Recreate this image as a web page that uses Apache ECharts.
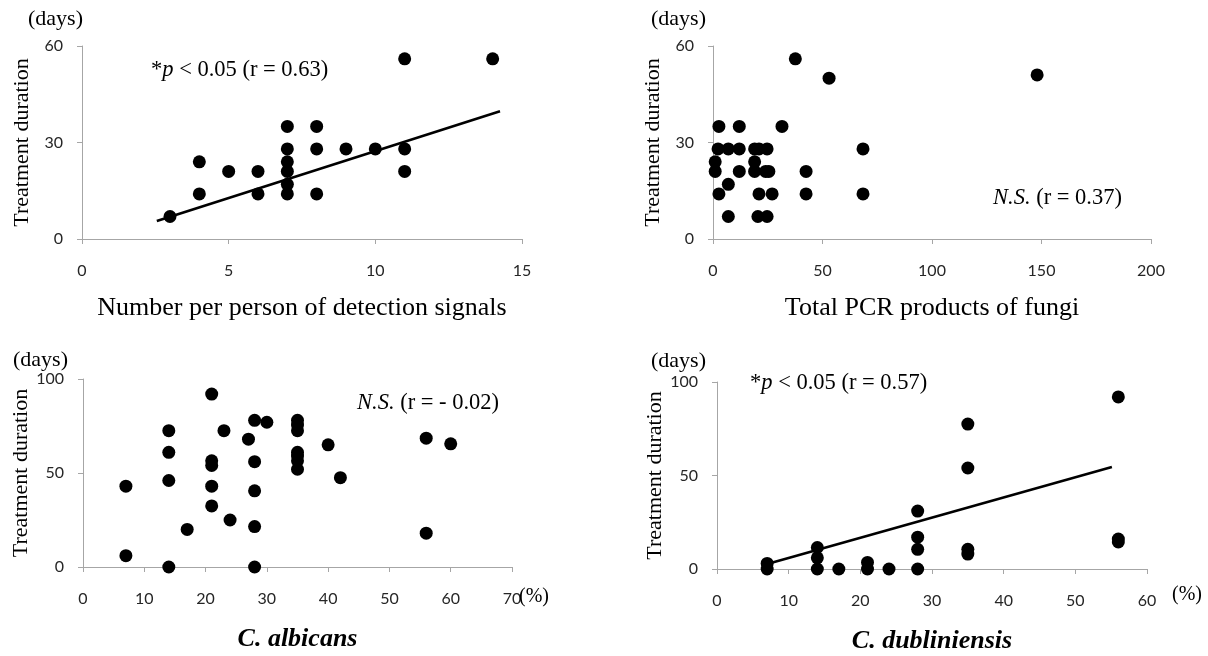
<!DOCTYPE html>
<html>
<head>
<meta charset="utf-8">
<script src="https://cdn.jsdelivr.net/npm/echarts@6/dist/echarts.min.js"></script>
<style>
html,body{margin:0;padding:0;background:#fff;}
#chart{width:1208px;height:656px;}
</style>
</head>
<body>
<div id="chart"></div>
<script>
// Panel 1: number per person of detection signals vs treatment duration
const signalsX = [11, 14, 3, 4, 4, 5, 6, 6, 7, 7, 7, 7, 7, 7, 8, 8, 8, 9, 10, 11, 11];
const signalsY = [56, 56, 7, 24, 14, 21, 21, 14, 35, 28, 24, 21, 17, 14, 35, 28, 14, 28, 28, 28, 21];
const signalsTrendX = [2.55, 14.25];
const signalsTrendY = [5.6, 39.7];

// Panel 2: total PCR products of fungi vs treatment duration
const pcrX = [37.6, 53, 148, 2.7, 12, 31.5, 2.3, 7, 12, 19, 21, 24.7, 68.5, 1, 19, 1, 12, 19, 24, 25.5, 42.5, 7, 2.7, 21, 27, 42.5, 68.5, 7, 20.5, 24.7];
const pcrY = [56, 50, 51, 35, 35, 35, 28, 28, 28, 28, 28, 28, 28, 24, 24, 21, 21, 21, 21, 21, 21, 17, 14, 14, 14, 14, 14, 7, 7, 7];

// Panel 3: C. albicans (%) vs treatment duration
const albicansX = [21, 14, 14, 14, 14, 7, 7, 17, 21, 21, 21, 21, 23, 24, 27, 28, 28, 28, 28, 28, 30, 35, 35, 35, 35, 35, 35, 35, 40, 42, 56, 56, 60];
const albicansY = [92, 72.5, 61, 46, 0, 43, 6, 20, 56.5, 54, 43, 32.5, 72.5, 25, 68, 78, 56, 40.5, 21.5, 0, 77, 78, 75.5, 72.5, 61, 59, 56.5, 52, 65, 47.5, 68.5, 18, 65.5];

// Panel 4: C. dubliniensis (%) vs treatment duration
const dubliX = [56, 35, 35, 35, 35, 28, 28, 28, 28, 14, 14, 14, 17, 21, 21, 24, 7, 7, 56, 56];
const dubliY = [92, 77.5, 54, 10.5, 8, 31, 17, 10.5, 0, 11.5, 6, 0, 0, 3.5, 0, 0, 3, 0, 16, 14.5];
const dubliTrendX = [7, 55.1];
const dubliTrendY = [2.7, 54.5];

// Tick settings
const xTicks = [{min: 0, max: 15, interval: 5}, {min: 0, max: 200, interval: 50}, {min: 0, max: 70, interval: 10}, {min: 0, max: 60, interval: 10}];
const yTicks = [{min: 0, max: 60, interval: 30}, {min: 0, max: 60, interval: 30}, {min: 0, max: 100, interval: 50}, {min: 0, max: 100, interval: 50}];

const xNames = ['Number per person of detection signals', 'Total PCR products of fungi', 'C. albicans', 'C. dubliniensis'];
const yName = 'Treatment duration';

const SERIF = '"Liberation Serif", "Times New Roman", serif';
const SANS = 'Lato, "Open Sans", sans-serif';

const grids = [
  {left: 82, top: 46, width: 440, height: 193},
  {left: 713, top: 46, width: 438, height: 193},
  {left: 83, top: 379, width: 429, height: 188},
  {left: 717, top: 382, width: 430, height: 187}
];

function mkX(i) {
  const bottom = i >= 2;
  return {
    gridIndex: i, type: 'value', min: xTicks[i].min, max: xTicks[i].max, interval: xTicks[i].interval,
    name: xNames[i], nameLocation: 'middle', nameGap: bottom ? 59 : 56,
    nameTextStyle: {fontFamily: SERIF, fontSize: 26, color: '#000',
      fontWeight: bottom ? 'bold' : 'normal', fontStyle: bottom ? 'italic' : 'normal'},
    splitLine: {show: false},
    axisLine: {onZero: false, lineStyle: {color: '#a6a6a6', width: 1}},
    axisTick: {show: true, inside: false, length: 5, lineStyle: {color: '#a6a6a6'}},
    axisLabel: {margin: 24, fontFamily: SANS, fontSize: 16, color: '#262626'}
  };
}
function mkY(i) {
  return {
    gridIndex: i, type: 'value', min: yTicks[i].min, max: yTicks[i].max, interval: yTicks[i].interval,
    name: yName, nameLocation: 'middle', nameRotate: 90, nameGap: 49,
    nameTextStyle: {fontFamily: SERIF, fontSize: 22, color: '#000'},
    splitLine: {show: false},
    axisLine: {show: true, onZero: false, lineStyle: {color: '#a6a6a6', width: 1}},
    axisTick: {show: true, inside: false, length: 5, lineStyle: {color: '#a6a6a6'}},
    axisLabel: {margin: 19, fontFamily: SANS, fontSize: 16, color: '#262626'}
  };
}

function pairs(xs, ys) { return xs.map((x, k) => [x, ys[k]]); }
function scatter(i, xs, ys) {
  return {type: 'scatter', xAxisIndex: i, yAxisIndex: i, data: pairs(xs, ys), symbolSize: 13,
    itemStyle: {color: '#000', opacity: 1}, silent: true, animation: false, z: 3};
}
function trend(i, xs, ys) {
  return {type: 'line', xAxisIndex: i, yAxisIndex: i, data: pairs(xs, ys), showSymbol: false,
    lineStyle: {color: '#000', width: 2.6}, silent: true, animation: false, z: 4};
}

const serifTxt = {fontFamily: SERIF, fontSize: 22, color: '#000', fontWeight: 'normal'};
const rich = {
  n: {fontFamily: SERIF, fontSize: 22.5, color: '#000'},
  i: {fontFamily: SERIF, fontSize: 22.5, color: '#000', fontStyle: 'italic'}
};
function txt(text, left, top, style) {
  return {text: text, left: left, top: top, padding: 0, itemGap: 0,
    textStyle: Object.assign({}, serifTxt, style || {}, {rich: rich})};
}

const option = {
  backgroundColor: '#fff',
  animation: false,
  title: [
    txt('(days)', 28, 8),
    txt('(days)', 651, 8),
    txt('(days)', 13, 349),
    txt('(days)', 651, 350),
    txt('{n|*}{i|p}{n| < 0.05 (r = 0.63)}', 151, 59),
    txt('{i|N.S.}{n| (r = 0.37)}', 993, 187),
    txt('{i|N.S.}{n| (r = - 0.02)}', 357, 392),
    txt('{n|*}{i|p}{n| < 0.05 (r = 0.57)}', 750, 372),
    txt('(%)', 519, 587, {fontSize: 20}),
    txt('(%)', 1172, 585, {fontSize: 20})
  ],
  grid: grids,
  xAxis: [mkX(0), mkX(1), mkX(2), mkX(3)],
  yAxis: [mkY(0), mkY(1), mkY(2), mkY(3)],
  series: [
    scatter(0, signalsX, signalsY),
    trend(0, signalsTrendX, signalsTrendY),
    scatter(1, pcrX, pcrY),
    scatter(2, albicansX, albicansY),
    scatter(3, dubliX, dubliY),
    trend(3, dubliTrendX, dubliTrendY)
  ]
};

const chart = echarts.init(document.getElementById('chart'), null, {renderer: 'canvas'});
chart.setOption(option);
</script>
</body>
</html>
